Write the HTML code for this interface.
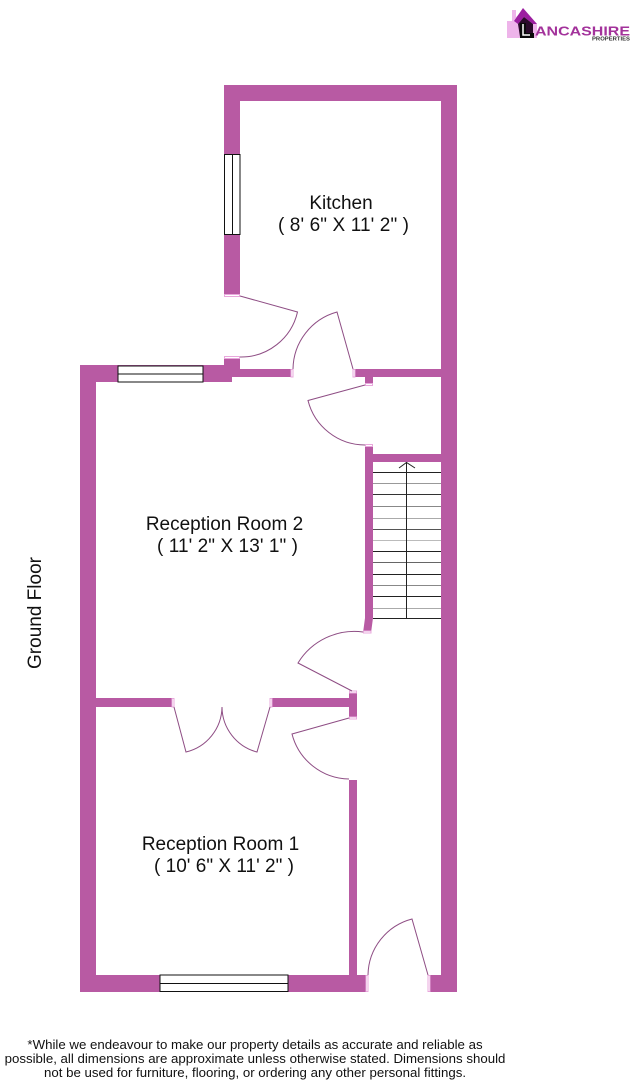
<!DOCTYPE html>
<html><head><meta charset="utf-8">
<style>
html,body{margin:0;padding:0;background:#fff}
svg{display:block}
text{font-family:"Liberation Sans",Arial,sans-serif;fill:#111}
</style></head>
<body>
<svg width="637" height="1081" viewBox="0 0 637 1081" xmlns="http://www.w3.org/2000/svg">
<rect width="637" height="1081" fill="#fff"/>
<!-- logo -->
<polygon points="507,38 507,21 512,21 512,10 516,10 516,17 524,10 537,24 537,38" fill="#eeb4ea"/>
<polygon points="514,21 523,8 537,24 533,24 524,17 518,24" fill="#9c1fa0"/>
<polygon points="518,24 524,17 533,24 533,34 520,37" fill="#2a0a2a"/>
<path d="M520 23h6v10h8v5h-14z" fill="#0a0a0a"/>
<path d="M523 24v11h7" fill="none" stroke="#fff" stroke-width="1.500"/>
<text x="535" y="35.500" font-size="13" font-weight="bold" textLength="95" lengthAdjust="spacingAndGlyphs" style="fill:#a3329b">ANCASHIRE</text>
<text x="592" y="40.500" font-size="5" font-weight="bold" textLength="38" lengthAdjust="spacingAndGlyphs" style="fill:#333">PROPERTIES</text>

<!-- walls -->
<g fill="#b85aa3">
<path d="M224 85H457V992H428V975H441V101H240V296H224Z"/>
<rect x="224" y="357" width="16" height="20"/>
<rect x="240" y="369" width="52" height="8"/>
<path d="M80 365H232V382H96V975H349V780H357V975H367V992H80Z"/>
<rect x="353" y="369" width="88" height="8"/>
<rect x="365" y="377" width="8" height="8"/>
<path d="M365 445H373V454H441V462H373V618L371 633H363L365 618Z"/>
<rect x="96" y="698" width="78" height="9"/>
<rect x="270" y="698" width="80" height="9"/>
<rect x="349" y="692" width="8" height="26"/>
</g>

<!-- windows -->
<g fill="#fff" stroke="#111" stroke-width="1">
<rect x="118" y="366" width="85" height="16"/>
<line x1="118" y1="374" x2="203" y2="374"/>
<rect x="160" y="975" width="128" height="16.500"/>
<line x1="160" y1="983.500" x2="288" y2="983.500"/>
<rect x="224.500" y="154.500" width="15.500" height="80"/>
<line x1="232.500" y1="154.500" x2="232.500" y2="234.500"/>
</g>

<!-- door jambs -->
<g fill="#fff" stroke="#e8a8dc" stroke-width="1">
<rect x="224.500" y="294.500" width="15" height="2"/>
<rect x="224.500" y="356.500" width="15" height="2"/>
<rect x="291" y="369.500" width="2" height="7.500"/>
<rect x="353" y="369.500" width="2" height="7.500"/>
<rect x="365.500" y="383.500" width="7" height="2"/>
<rect x="365.500" y="444.500" width="7" height="2"/>
<rect x="172" y="698.500" width="2" height="8.500"/>
<rect x="270" y="698.500" width="2" height="8.500"/>
<rect x="349.500" y="691" width="7" height="2"/>
<rect x="349.500" y="717" width="7" height="2"/>
<rect x="363.500" y="631" width="7.500" height="2"/>
<rect x="366" y="975.500" width="2" height="16"/>
<rect x="428" y="975.500" width="2" height="16"/>
</g>

<!-- doors -->
<g fill="none" stroke="#8e4d84" stroke-width="1">
<path d="M240 296L297.500 312A58 58 0 0 1 240 357"/>
<path d="M353 369L337 312A60 60 0 0 0 293 369"/>
<path d="M365 385L308 400.500A59 59 0 0 0 365 445"/>
<path d="M363 632A66 66 0 0 0 298 663L352 691"/>
<path d="M174 707L186 752A47 47 0 0 0 222 707"/>
<path d="M270 707L257 752A47 47 0 0 1 222 707"/>
<path d="M349 718L292 734A60 60 0 0 0 349 779"/>
<path d="M428 975L412 919A59 59 0 0 0 368 975"/>
</g>

<!-- stairs -->
<g stroke-width="1">
<line x1="373" x2="441" y1="472.500" y2="472.500" stroke="#222"/>
<line x1="373" x2="441" y1="483.500" y2="483.500" stroke="#999"/>
<line x1="373" x2="441" y1="494.500" y2="494.500" stroke="#333"/>
<line x1="373" x2="441" y1="506.500" y2="506.500" stroke="#888"/>
<line x1="373" x2="441" y1="518.500" y2="518.500" stroke="#aaa"/>
<line x1="373" x2="441" y1="529.500" y2="529.500" stroke="#555"/>
<line x1="373" x2="441" y1="540.500" y2="540.500" stroke="#bbb"/>
<line x1="373" x2="441" y1="551.500" y2="551.500" stroke="#222"/>
<line x1="373" x2="441" y1="562.500" y2="562.500" stroke="#666"/>
<line x1="373" x2="441" y1="574.500" y2="574.500" stroke="#222"/>
<line x1="373" x2="441" y1="585.500" y2="585.500" stroke="#888"/>
<line x1="373" x2="441" y1="596.500" y2="596.500" stroke="#222"/>
<line x1="373" x2="441" y1="608.500" y2="608.500" stroke="#aaa"/>
<line x1="373" x2="441" y1="618.500" y2="618.500" stroke="#222"/>
<line x1="406.500" x2="406.500" y1="462" y2="618" stroke="#222"/>
<path d="M399 468L406.500 462.500L415 468" fill="none" stroke="#222"/>
</g>

<!-- labels -->
<g font-size="19" text-anchor="middle">
<text x="341" y="209">Kitchen</text>
<text x="343.500" y="231" xml:space="preserve" textLength="131">( 8' 6" X 11' 2" )</text>
<text x="224.500" y="530">Reception Room 2</text>
<text x="227.500" y="552" xml:space="preserve" textLength="141">( 11' 2" X 13' 1" )</text>
<text x="220.500" y="850">Reception Room 1</text>
<text x="224" y="872" xml:space="preserve" textLength="140">( 10' 6" X 11' 2" )</text>
<text transform="translate(41,613) rotate(-90)" x="0" y="0">Ground Floor</text>
</g>
<g font-size="13.250" text-anchor="middle">
<text x="255" y="1049">*While we endeavour to make our property details as accurate and reliable as</text>
<text x="255" y="1063">possible, all dimensions are approximate unless otherwise stated. Dimensions should</text>
<text x="255" y="1077">not be used for furniture, flooring, or ordering any other personal fittings.</text>
</g>
</svg>
</body></html>
